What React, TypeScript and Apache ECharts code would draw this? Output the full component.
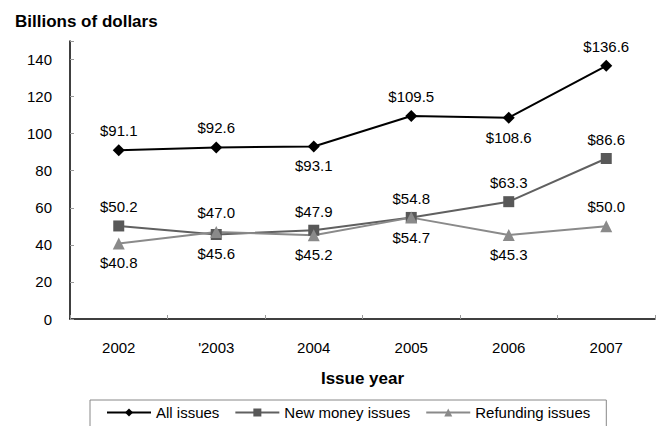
import React, { useEffect, useRef } from "react";
import * as echarts from "echarts";

const years = ["2002", "'2003", "2004", "2005", "2006", "2007"];
const allIssues = [91.1, 92.6, 93.1, 109.5, 108.6, 136.6];
const newMoney = [50.2, 45.6, 47.9, 54.8, 63.3, 86.6];
const refunding = [40.8, 47.0, 45.2, 54.7, 45.3, 50.0];
const allPos = ["top", "top", "bottom", "top", "bottom", "top"];
const newPos = ["top", "bottom", "top", "top", "top", "top"];
const refPos = ["bottom", "top", "bottom", "bottom", "bottom", "top"];

const FONT = "'Liberation Sans', Arial, sans-serif";

function build(values: number[], pos: string[]) {
  return values.map((v, i) => ({
    value: v,
    label: { position: pos[i] },
  }));
}

export default function App() {
  const ref = useRef<HTMLDivElement>(null);
  useEffect(() => {
    if (!ref.current) return;
    const chart = echarts.init(ref.current, undefined, { renderer: "svg" });
    const labelCommon = {
      show: true,
      distance: 6,
      color: "#000",
      fontSize: 15,
      fontFamily: FONT,
      formatter: (p: any) => "$" + Number(p.value).toFixed(1),
    };
    chart.setOption({
      animation: false,
      backgroundColor: "#fff",
      textStyle: { fontFamily: FONT },
      title: {
        text: "Billions of dollars",
        left: 10,
        top: 8,
        textStyle: { fontSize: 17, fontWeight: "bold", color: "#000", fontFamily: FONT },
      },
      grid: { left: 70, right: 5, top: 41, bottom: 107 },
      legend: {
        left: 90,
        top: 400,
        borderColor: "#888",
        borderWidth: 1,
        padding: [5, 16, 10, 16],
        itemGap: 15,
        itemWidth: 44,
        itemHeight: 10,
        textStyle: { fontSize: 15, color: "#000", fontFamily: FONT },
        data: ["All issues", "New money issues", "Refunding issues"],
      },
      xAxis: {
        type: "category",
        data: years,
        boundaryGap: true,
        name: "Issue year",
        nameLocation: "middle",
        nameGap: 51,
        nameTextStyle: { fontSize: 17, fontWeight: "bold", color: "#000", fontFamily: FONT },
        axisLine: { lineStyle: { color: "#000", width: 1.5 } },
        axisTick: { show: true, inside: true, length: 4, lineStyle: { color: "#999" } },
        axisLabel: { fontSize: 15, color: "#000", margin: 21, fontFamily: FONT },
        splitLine: { show: false },
      },
      yAxis: {
        type: "value",
        min: 0,
        max: 150,
        interval: 20,
        axisLine: { show: true, lineStyle: { color: "#000", width: 1.5 } },
        axisTick: { show: true, inside: true, length: 4, lineStyle: { color: "#999" } },
        axisLabel: {
          fontSize: 15,
          color: "#000",
          margin: 18,
          fontFamily: FONT,
          formatter: (v: number) => (v > 140 ? "" : String(v)),
        },
        splitLine: { show: false },
      },
      series: [
        {
          name: "All issues",
          type: "line",
          data: build(allIssues, allPos),
          symbol: "diamond",
          symbolSize: 12,
          itemStyle: { color: "#000" },
          lineStyle: { color: "#000", width: 2 },
          label: labelCommon,
          z: 3,
        },
        {
          name: "New money issues",
          type: "line",
          data: build(newMoney, newPos),
          symbol: "rect",
          symbolSize: 11,
          itemStyle: { color: "#585858" },
          lineStyle: { color: "#606060", width: 2 },
          label: labelCommon,
          z: 2,
        },
        {
          name: "Refunding issues",
          type: "line",
          data: build(refunding, refPos),
          symbol: "triangle",
          symbolSize: 12,
          itemStyle: { color: "#8a8a8a" },
          lineStyle: { color: "#8a8a8a", width: 2 },
          label: labelCommon,
          z: 2,
        },
      ],
    });
    return () => chart.dispose();
  }, []);
  return <div ref={ref} style={{ width: 660, height: 426, position: "absolute", left: 0, top: 0 }} />;
}
